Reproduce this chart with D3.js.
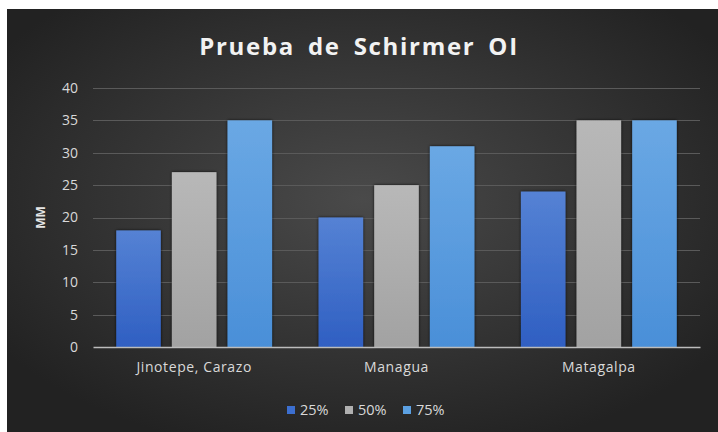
<!DOCTYPE html>
<html>
<head>
<meta charset="utf-8">
<script src="https://cdn.jsdelivr.net/npm/d3@7"></script>
<style>
  html, body { margin: 0; padding: 0; background: #fff; }
  svg { display: block; }
</style>
</head>
<body>
<div id="chart"></div>
<script>
// ── Data ─────────────────────────────────────────────────────
const CATEGORIES = ['Jinotepe, Carazo', 'Managua', 'Matagalpa'];
const SERIES     = ['25%', '50%', '75%'];
const VALUES_25  = [18, 20, 24];
const VALUES_50  = [27, 25, 35];
const VALUES_75  = [35, 31, 35];
const Y_TICKS    = [0, 5, 10, 15, 20, 25, 30, 35, 40];

const VALUES = [VALUES_25, VALUES_50, VALUES_75];

// bar gradients: [top, bottom]
const COLORS = [
  ['#5582d4', '#2f5fc2'],
  ['#b8b8b8', '#a2a2a2'],
  ['#6aa8e4', '#4a8fd8'],
];
const SWATCH = ['#3c6fd0', '#b0b0b0', '#5ba0e2'];

const W = 718, H = 432;
const FONT = '"Open Sans", "DejaVu Sans", sans-serif';

const svg = d3.select('#chart').append('svg')
  .attr('width', W).attr('height', H);

const defs = svg.append('defs');

const bg = defs.append('radialGradient')
  .attr('id', 'bg').attr('cx', '50%').attr('cy', '45%').attr('r', '62%');
bg.append('stop').attr('offset', '0%').attr('stop-color', '#4a4a4a');
bg.append('stop').attr('offset', '100%').attr('stop-color', '#222');

COLORS.forEach((c, i) => {
  const lg = defs.append('linearGradient')
    .attr('id', `bar${i}`).attr('x1', 0).attr('y1', 0).attr('x2', 0).attr('y2', 1);
  lg.append('stop').attr('offset', '0%').attr('stop-color', c[0]);
  lg.append('stop').attr('offset', '100%').attr('stop-color', c[1]);
});

const shadow = defs.append('filter').attr('id', 'shadow')
  .attr('x', '-20%').attr('y', '-10%').attr('width', '140%').attr('height', '120%');
shadow.append('feDropShadow')
  .attr('dx', 0).attr('dy', 0).attr('stdDeviation', 1.6)
  .attr('flood-color', '#000').attr('flood-opacity', 0.85);

// ── Background ───────────────────────────────────────────────
svg.append('rect')
  .attr('x', 7).attr('y', 9).attr('width', W - 7).attr('height', H - 9)
  .attr('fill', 'url(#bg)');

// ── Scales ───────────────────────────────────────────────────
const margin = { left: 93, right: 18, top: 88, bottom: 85 };
const x = d3.scaleBand()
  .domain(CATEGORIES)
  .range([margin.left, W - margin.right])
  .paddingInner(0.23).paddingOuter(0.115);

const xs = d3.scaleBand()
  .domain(SERIES)
  .range([0, x.bandwidth()])
  .paddingInner(0.2);

const y = d3.scaleLinear()
  .domain([0, 40])
  .range([H - margin.bottom, margin.top]);

// ── Gridlines ────────────────────────────────────────────────
svg.append('g')
  .selectAll('line')
  .data(Y_TICKS.slice(1))
  .join('line')
  .attr('x1', margin.left).attr('x2', W - margin.right)
  .attr('y1', d => Math.round(y(d)) + 0.5).attr('y2', d => Math.round(y(d)) + 0.5)
  .attr('stroke', '#5a5a5a').attr('stroke-width', 1);

// ── Y axis ───────────────────────────────────────────────────
const yAxis = svg.append('g')
  .attr('transform', `translate(${margin.left},0)`)
  .call(d3.axisLeft(y).tickValues(Y_TICKS).tickSize(0).tickPadding(15));
yAxis.select('.domain').remove();
yAxis.selectAll('text')
  .attr('fill', '#d9d9d9').attr('font-size', 14).attr('font-family', FONT);

// ── Bars ─────────────────────────────────────────────────────
const groups = svg.append('g')
  .selectAll('g')
  .data(CATEGORIES)
  .join('g')
  .attr('transform', d => `translate(${x(d)},0)`);

groups.selectAll('rect')
  .data((d, ci) => SERIES.map((s, si) => ({ s, si, v: VALUES[si][ci] })))
  .join('rect')
  .attr('x', d => xs(d.s))
  .attr('y', d => y(d.v))
  .attr('width', xs.bandwidth())
  .attr('height', d => y(0) - y(d.v))
  .attr('fill', d => `url(#bar${d.si})`)
  .attr('filter', 'url(#shadow)');

// ── X axis ───────────────────────────────────────────────────
const xAxis = svg.append('g')
  .attr('transform', `translate(0,${y(0)})`)
  .call(d3.axisBottom(x).tickSize(0).tickPadding(15));
xAxis.select('.domain')
  .attr('stroke', '#bcbcbc').attr('stroke-width', 1.5);
xAxis.selectAll('text')
  .attr('fill', '#d9d9d9').attr('font-size', 14).attr('font-family', FONT)
  .attr('letter-spacing', 0.6);

// ── Titles ───────────────────────────────────────────────────
svg.append('text')
  .attr('x', 359).attr('y', 55)
  .attr('text-anchor', 'middle')
  .attr('fill', '#f2f2f2')
  .attr('font-size', 24).attr('font-weight', 'bold')
  .attr('letter-spacing', 1.7)
  .attr('font-family', FONT)
  .style('word-spacing', '5px')
  .text('Prueba de Schirmer OI');

svg.append('text')
  .attr('transform', `translate(45,${(y(0) + y(40)) / 2}) rotate(-90)`)
  .attr('text-anchor', 'middle')
  .attr('fill', '#e6e6e6')
  .attr('font-size', 12).attr('font-weight', 'bold')
  .attr('font-family', FONT)
  .text('MM');

// ── Legend ───────────────────────────────────────────────────
const legendX = [287, 345, 403];
const legend = svg.append('g');
SERIES.forEach((s, i) => {
  legend.append('rect')
    .attr('x', legendX[i]).attr('y', 406)
    .attr('width', 8).attr('height', 8)
    .attr('fill', SWATCH[i]);
  legend.append('text')
    .attr('x', legendX[i] + 13).attr('y', 415)
    .attr('fill', '#d9d9d9').attr('font-size', 14.5).attr('font-family', FONT)
    .text(s);
});
</script>
</body>
</html>
